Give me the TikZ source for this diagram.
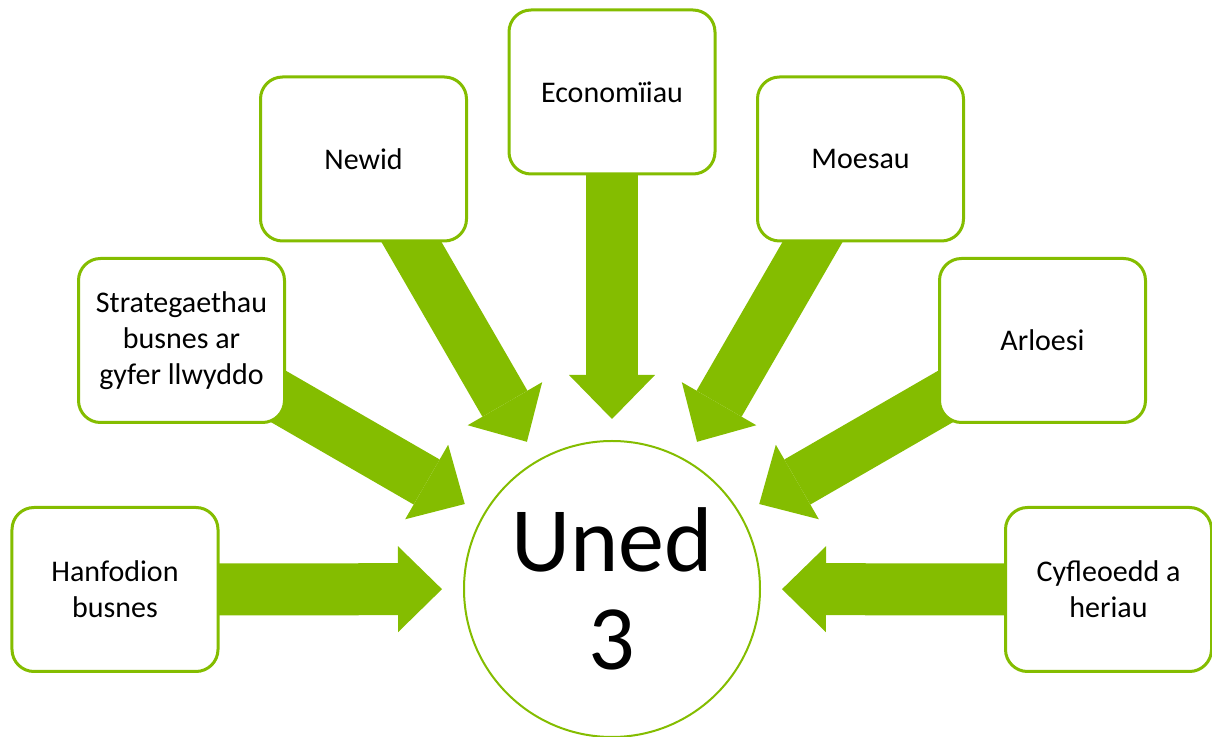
\documentclass[tikz,border=0pt]{standalone}
\usepackage{fontspec}
\setmainfont{Carlito}
\usetikzlibrary{calc,backgrounds}
\definecolor{leafgreen}{HTML}{84BD00}

\tikzstyle{topic}=[draw=leafgreen, line width=1.5pt, fill=white, rounded corners=11pt, minimum width=103pt, minimum height=82pt, inner sep=2pt, align=center, font=\fontsize{15}{18}\selectfont]
\tikzstyle{hub}=[circle, draw=leafgreen, line width=1pt, fill=white, minimum size=148pt, inner sep=0pt, align=center, font=\fontsize{46}{49}\selectfont]
\tikzstyle{shaft}=[leafgreen, line width=26pt]

% block arrow from a topic box into the hub
\newcommand{\bigarrow}[2]{%
  \coordinate (#1-tip) at ($(#2.center)!85pt!(#1.center)$);
  \coordinate (#1-base) at ($(#2.center)!107pt!(#1.center)$);
  \draw[shaft] (#1.center) -- (#1-base);
  \fill[leafgreen] (#1-tip) -- ($(#1-base)!21.5pt!90:(#1.center)$) -- ($(#1-base)!21.5pt!-90:(#1.center)$) -- cycle;
}

\begin{document}
\begin{tikzpicture}[x=50pt, y=-50pt]
      \useasboundingbox (0,0) rectangle (12.12,7.37);

      \node[hub] (hub) at (6.12, 5.89) {Uned\\3};

      \node[topic] (hanf) at (1.15, 5.895) {Hanfodion\\busnes};
      \node[topic] (strat) at (1.815, 3.405) {Strategaethau\\busnes ar\\gyfer llwyddo};
      \node[topic] (newid) at (3.635, 1.59) {Newid};
      \node[topic] (econ) at (6.12, 0.92) {Economïiau};
      \node[topic] (moes) at (8.605, 1.59) {Moesau};
      \node[topic] (arl) at (10.425, 3.405) {Arloesi};
      \node[topic] (cyf) at (11.085, 5.895) {Cyfleoedd a\\heriau};

      \begin{pgfonlayer}{background}
      \bigarrow{hanf}{hub}
      \bigarrow{strat}{hub}
      \bigarrow{newid}{hub}
      \bigarrow{econ}{hub}
      \bigarrow{moes}{hub}
      \bigarrow{arl}{hub}
      \bigarrow{cyf}{hub}
      \end{pgfonlayer}
    \end{tikzpicture}
\end{document}
